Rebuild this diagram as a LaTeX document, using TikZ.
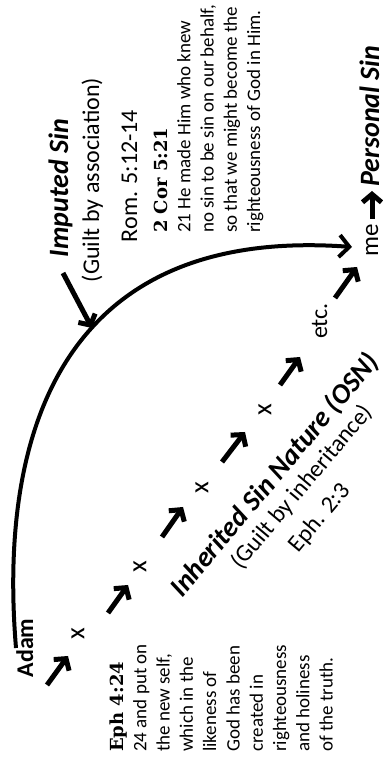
\documentclass[tikz,border=0pt]{standalone}
\usepackage{fontspec}
\setmainfont{Carlito}
\newfontfamily\slabfont{DejaVu Serif}
\usetikzlibrary{arrows.meta}
\begin{document}
\begin{tikzpicture}[x=1pt,y=1pt,
  body/.style={inner sep=0pt, anchor=base west, font=\fontsize{19}{23}\selectfont},
  ref/.style={inner sep=0pt, anchor=base west, font=\fontsize{18}{20}\slabfont\bfseries},
  title/.style={inner sep=0pt, font=\fontsize{28}{30}\selectfont\bfseries\itshape},
  sub/.style={inner sep=0pt, font=\fontsize{24}{26}\selectfont},
  xmk/.style={inner sep=0pt, font=\fontsize{27}{29}\selectfont},
  chain/.style={line width=5pt, -{Straight Barb[length=8pt,width=19pt]}},
  curve/.style={line width=4pt, -{Straight Barb[length=10pt,width=22pt]}}]
\fill[white] (0,0) rectangle (383,761);
\useasboundingbox (0,0) rectangle (383,761);
\begin{scope}[shift={(383,0)}, rotate=90, transform shape]
  % Adam and the chain
  \node[inner sep=0pt, anchor=base, font=\fontsize{24}{26}\selectfont\bfseries] (adam) at (113,350) {Adam};
  \node[xmk] (x1) at (127,305) {x};
  \node[xmk] (x2) at (194,243) {x};
  \node[xmk] (x3) at (273,181) {x};
  \node[xmk] (x4) at (351,118) {x};
  \node[sub, anchor=base] (etc) at (440,56) {etc.};
  \node[inner sep=0pt, anchor=base, font=\fontsize{25}{27}\selectfont] (me) at (521,5) {me};
  \node[title, anchor=base west] (pers) at (574,4) {Personal Sin};
  \coordinate (a1s) at (76,336);  \coordinate (a1e) at (105,315);
  \coordinate (a2s) at (148,275); \coordinate (a2e) at (176,255);
  \coordinate (a3s) at (224,221); \coordinate (a3e) at (254,200);
  \coordinate (a4s) at (299,161); \coordinate (a4e) at (329,138);
  \coordinate (a5s) at (376,103); \coordinate (a5e) at (404,83);
  \coordinate (a6s) at (463,48);  \coordinate (a6e) at (494,26);
  \coordinate (a7s) at (542,11);  \coordinate (a7e) at (570,11);
  \foreach \k in {1,...,7} \draw[chain] (a\k s) -- (a\k e);
  % Imputed sin
  \coordinate (cs) at (113,367);
  \coordinate (ce) at (514,31);
  \draw[curve] (cs) .. controls (330,385) and (535,320) .. (ce);
  \node[title, anchor=base] (imp) at (573,315) {Imputed Sin};
  \node[sub, anchor=base] (gba) at (581,284) {(Guilt by association)};
  \node[sub, anchor=base] (rom) at (585,246) {Rom. 5:12-14};
  \coordinate (is) at (488,320); \coordinate (ie) at (433,291);
  \draw[chain] (is) -- (ie);
  \node[ref] (cor) at (528,216) {2 Cor 5:21};
  \foreach \t [count=\i] in {{21 He made Him who knew},{no sin to be sin on our behalf,},{so that we might become the},{righteousness of God in Him.}}
    \node[body] (cv\i) at (528,216-23.3*\i) {\t};
  % Inherited sin nature
  \node[title, rotate=-40] (osn) at (286,108) {Inherited Sin Nature (OSN)};
  \node[sub, rotate=-40] (gbi) at (274,81) {(Guilt by inheritance)};
  \node[sub, rotate=-40] (eph23) at (243,63) {Eph. 2:3};
  % Eph 4:24
  \node[ref] (eph) at (9,260) {Eph 4:24};
  \foreach \t [count=\i] in {{24 and put on},{the new self,},{which in the},{likeness of},{God has been},{created in},{righteousness},{and holiness},{of the truth.}}
    \node[body] (ev\i) at (9,260-23.3*\i) {\t};
\end{scope}
\end{tikzpicture}
\end{document}
